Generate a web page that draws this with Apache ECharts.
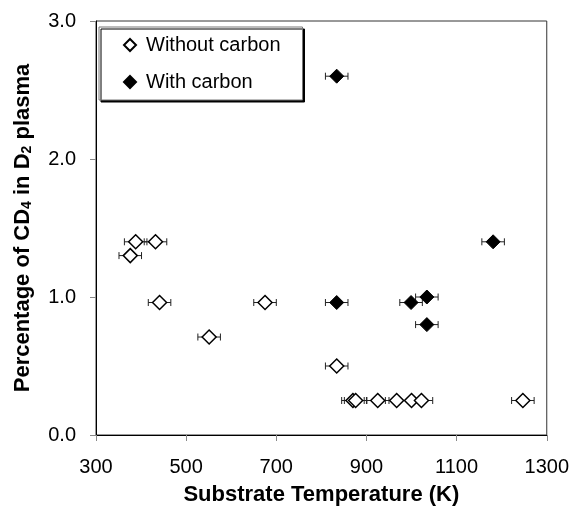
<!DOCTYPE html>
<html>
<head>
<meta charset="utf-8">
<script src="https://cdn.jsdelivr.net/npm/echarts@6/dist/echarts.min.js"></script>
<style>html,body{margin:0;padding:0;background:#fff;}#c{width:572px;height:516px;}</style>
</head>
<body>
<div id="c"></div>
<script>
// Data
const withoutTemp = [388, 432, 376, 441, 551, 675, 834, 870, 876, 925, 967, 1000, 1022, 1247];
const withoutPct  = [1.40, 1.40, 1.30, 0.96, 0.71, 0.96, 0.50, 0.25, 0.25, 0.25, 0.25, 0.25, 0.25, 0.25];
const withTemp = [834, 1181, 834, 999, 1034, 1034];
const withPct  = [2.60, 1.40, 0.96, 0.96, 1.00, 0.80];
const tempErr = 25; // horizontal error bar half-width (K)
const xTicks = [300, 500, 700, 900, 1100, 1300];
const yTicks = [0, 1, 2, 3];

const FONT = '"Liberation Sans", Arial, sans-serif';

function pairs(xs, ys){ return xs.map((x,i)=>[x, ys[i]]); }

function errRender(params, api){
  const x = api.value(0), y = api.value(1);
  const p1 = api.coord([x - tempErr, y]);
  const p2 = api.coord([x + tempErr, y]);
  const h = 3.5;
  const st = {stroke:'#222', lineWidth:1};
  return {type:'group', children:[
    {type:'line', shape:{x1:p1[0], y1:p1[1], x2:p2[0], y2:p2[1]}, style:st},
    {type:'line', shape:{x1:p1[0], y1:p1[1]-h, x2:p1[0], y2:p1[1]+h}, style:st},
    {type:'line', shape:{x1:p2[0], y1:p2[1]-h, x2:p2[0], y2:p2[1]+h}, style:st}
  ]};
}

const chart = echarts.init(document.getElementById('c'), null, {renderer:'canvas'});
chart.setOption({
  animation:false,
  backgroundColor:'#fff',
  grid:{left:96, right:24, top:21, bottom:81, show:true, borderColor:'#333', borderWidth:1},
  legend:{
    orient:'vertical', left:99, top:27,
    padding:[8,22,8,24],
    itemGap:17, itemWidth:12, itemHeight:12,
    backgroundColor:'#fff', borderColor:'#777', borderWidth:1,
    shadowColor:'#000', shadowOffsetX:2, shadowOffsetY:2, shadowBlur:0,
    textStyle:{fontFamily:FONT, fontSize:20, color:'#000', padding:[0,0,0,5]},
    data:[{name:'Without carbon', icon:'diamond'}, {name:'With carbon', icon:'diamond'}]
  },
  xAxis:{
    type:'value', min:xTicks[0], max:xTicks[xTicks.length-1], interval:200,
    name:'Substrate Temperature (K)', nameLocation:'middle', nameGap:49,
    nameTextStyle:{fontFamily:FONT, fontSize:22, fontWeight:'bold', color:'#000'},
    axisLine:{lineStyle:{color:'#000', width:1}},
    axisTick:{length:6, lineStyle:{color:'#888'}},
    axisLabel:{fontFamily:FONT, fontSize:20, color:'#000', margin:22, formatter:v=>String(v)},
    splitLine:{show:false}
  },
  yAxis:{
    type:'value', min:yTicks[0], max:yTicks[yTicks.length-1], interval:1,
    name:'{b|Percentage of CD}{s|4}{b| in D}{s|2}{b| plasma}',
    nameLocation:'middle', nameGap:62, nameRotate:90,
    nameTextStyle:{fontFamily:FONT, fontSize:22, fontWeight:'bold', color:'#000',
      rich:{
        b:{fontFamily:FONT, fontSize:22, fontWeight:'bold', color:'#000'},
        s:{fontFamily:FONT, fontSize:14, fontWeight:'bold', color:'#000', padding:[8,0,0,0]}
      }},
    axisLine:{lineStyle:{color:'#000', width:1}},
    axisTick:{length:6, lineStyle:{color:'#888'}},
    axisLabel:{fontFamily:FONT, fontSize:20, color:'#000', margin:20, formatter:v=>v.toFixed(1)},
    splitLine:{show:false}
  },
  series:[
    {type:'custom', name:'errWithout', renderItem:errRender, data:pairs(withoutTemp, withoutPct), silent:true, z:1},
    {type:'custom', name:'errWith', renderItem:errRender, data:pairs(withTemp, withPct), silent:true, z:1},
    {type:'scatter', name:'Without carbon', symbol:'diamond', symbolSize:[14,14],
      itemStyle:{color:'#fff', borderColor:'#000', borderWidth:1.5, opacity:1},
      data:pairs(withoutTemp, withoutPct), z:3},
    {type:'scatter', name:'With carbon', symbol:'diamond', symbolSize:[14,14],
      itemStyle:{color:'#000', borderColor:'#000', borderWidth:1, opacity:1},
      data:pairs(withTemp, withPct), z:4}
  ]
});
</script>
</body>
</html>
